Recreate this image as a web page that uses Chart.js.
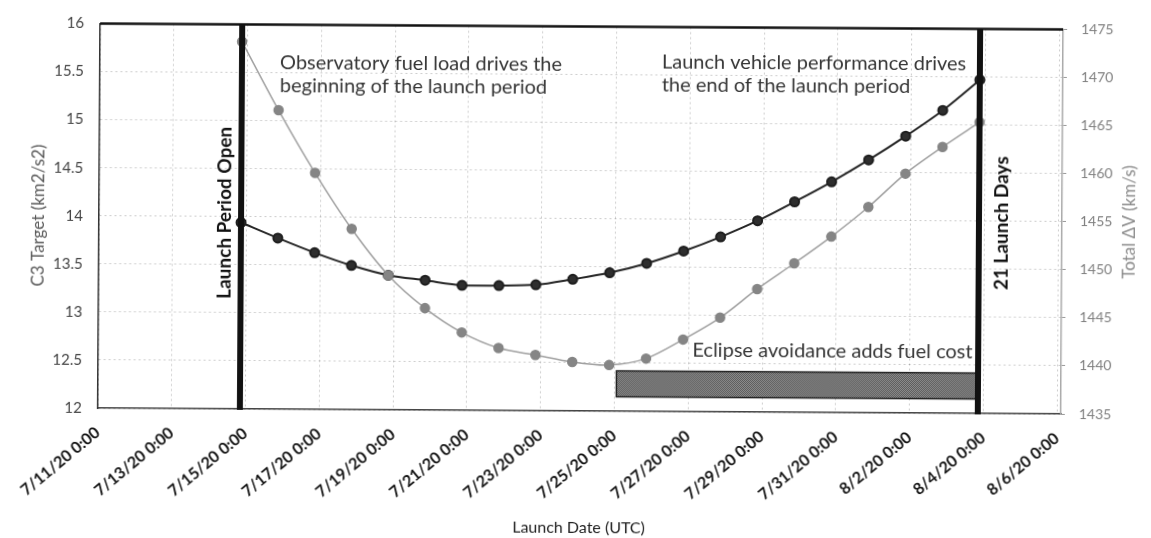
<!DOCTYPE html>
<html>
<head>
<meta charset="utf-8">
<script src="https://cdn.jsdelivr.net/npm/chart.js@4.4.1/dist/chart.umd.min.js"></script>
<style>
html,body{margin:0;padding:0;background:#fff;overflow:hidden}
/* the source is a slightly tilted scan */
#c{display:block;transform:rotate(0.35deg);transform-origin:580.75px 218.75px}
</style>
</head>
<body>
<canvas id="c" width="1151" height="538"></canvas>
<script>
// launch opportunities, days after 7/11/20 0:00 UTC
const launchDay=[3.85,4.85,5.85,6.85,7.85,8.85,9.85,10.85,11.85,12.85,13.85,14.85,15.85,16.85,17.85,18.85,19.85,20.85,21.85,22.85,23.85];
const c3Target=[13.94,13.78,13.63,13.50,13.40,13.35,13.30,13.30,13.31,13.37,13.44,13.54,13.67,13.82,13.99,14.19,14.40,14.63,14.88,15.15,15.47];
const totalDv=[1473.2,1466.1,1459.6,1453.8,1449.0,1445.6,1443.1,1441.5,1440.8,1440.1,1439.8,1440.5,1442.5,1444.8,1447.8,1450.5,1453.3,1456.4,1459.9,1462.7,1465.3];
const periodBounds=[3.85,23.85];      // launch period open / close
const eclipseDays=[14.05,23.85];      // eclipse avoidance span
const eclipseC3=[12.15,12.42];        // bar drawn against the C3 axis
const xRange=[0,26.1], xStep=2;
const c3Range=[12,16], c3Step=0.5;
const dvRange=[1435,1475], dvStep=5;

const FONT='Lato, "Open Sans", sans-serif';
Chart.defaults.font.family=FONT;

function dayLabel(v){
  const d=new Date(Date.UTC(2020,6,11)+v*864e5);
  return `${d.getUTCMonth()+1}/${d.getUTCDate()}/20 0:00`;
}
function dotFill(ctx){
  const p=document.createElement('canvas');p.width=p.height=2;
  const g=p.getContext('2d');
  g.fillStyle='#8c8c8c';g.fillRect(0,0,2,2);
  g.fillStyle='#5c5c5c';g.fillRect(0,0,1,1);g.fillRect(1,1,1,1);
  return ctx.createPattern(p,'repeat');
}
function vtext(ctx,t,x,y){ctx.save();ctx.translate(x,y);ctx.rotate(-Math.PI/2);ctx.fillText(t,0,0);ctx.restore();}

const overlay={id:'overlay',
  beforeDatasetsDraw(ch){
    const {ctx,scales:{x,y}}=ch;
    const x0=x.getPixelForValue(eclipseDays[0]),x1=x.getPixelForValue(eclipseDays[1]);
    const yt=y.getPixelForValue(eclipseC3[1]),yb=y.getPixelForValue(eclipseC3[0]);
    ctx.save();
    ctx.fillStyle=dotFill(ctx);ctx.fillRect(x0,yt,x1-x0,yb-yt);
    ctx.strokeStyle='#222';ctx.lineWidth=1.5;ctx.strokeRect(x0,yt,x1-x0,yb-yt);
    ctx.restore();
  },
  afterDatasetsDraw(ch){
    const {ctx,chartArea:a,scales:{x}}=ch;
    ctx.save();
    ctx.strokeStyle='#111';ctx.lineWidth=2.5;
    ctx.beginPath();ctx.moveTo(a.left,a.top);ctx.lineTo(a.right,a.top);ctx.stroke();
    ctx.lineWidth=6;
    for(const d of periodBounds){
      const px=x.getPixelForValue(d);
      ctx.beginPath();ctx.moveTo(px,a.top);ctx.lineTo(px,a.bottom+1);ctx.stroke();
    }
    ctx.restore();
  },
  afterDraw(ch){
    const {ctx,chartArea:a,scales:{x,y}}=ch;
    ctx.save();
    ctx.fillStyle='#363636';ctx.font=`20px ${FONT}`;ctx.textBaseline='alphabetic';ctx.textAlign='left';
    let px=x.getPixelForValue(4.88),py=y.getPixelForValue(15.54);
    ctx.fillText('Observatory fuel load drives the',px,py);
    ctx.fillText('beginning of the launch period',px,py+23);
    px=x.getPixelForValue(15.23);py=y.getPixelForValue(15.57);
    ctx.fillText('Launch vehicle performance drives',px,py);
    ctx.fillText('the end of the launch period',px,py+23);
    ctx.textAlign='right';
    ctx.fillText('Eclipse avoidance adds fuel cost',x.getPixelForValue(23.70),y.getPixelForValue(12.57));
    ctx.textAlign='center';ctx.textBaseline='middle';
    ctx.fillStyle='#111';ctx.font=`bold 19px ${FONT}`;
    vtext(ctx,'Launch Period Open',x.getPixelForValue(periodBounds[0])-16,y.getPixelForValue(14.04));
    vtext(ctx,'21 Launch Days',x.getPixelForValue(periodBounds[1])+23,y.getPixelForValue(13.98));
    ctx.fillStyle='#8a8a8a';ctx.font=`17px ${FONT}`;
    vtext(ctx,'Total \u0394V (km/s)',a.right+68,(a.top+a.bottom)/2);
    ctx.restore();
  }
};

new Chart(document.getElementById('c'),{
  type:'line',
  data:{datasets:[
    {label:'Total \u0394V',data:launchDay.map((d,i)=>({x:d,y:totalDv[i]})),yAxisID:'y1',
     borderColor:'#a0a0a0',borderWidth:1.5,pointRadius:4.5,pointBackgroundColor:'#858585',pointBorderColor:'#858585',tension:0.3},
    {label:'C3 Target',data:launchDay.map((d,i)=>({x:d,y:c3Target[i]})),yAxisID:'y',
     borderColor:'#262626',borderWidth:2,pointRadius:4.5,pointBackgroundColor:'#2e2e2e',pointBorderColor:'#1e1e1e',tension:0.3}
  ]},
  options:{
    responsive:false,animation:false,
    layout:{padding:{top:26.5,left:0,right:0,bottom:0}},
    plugins:{legend:{display:false},tooltip:{enabled:false}},
    scales:{
      x:{type:'linear',min:xRange[0],max:xRange[1],
        ticks:{stepSize:xStep,includeBounds:false,callback:dayLabel,minRotation:40,maxRotation:40,padding:15,
          color:'#141414',font:{size:16,weight:'bold'}},
        grid:{color:'rgba(0,0,0,0.2)',drawTicks:false},
        border:{color:'#444',width:1.5,dash:[2,3]},
        title:{display:true,text:'Launch Date (UTC)',color:'#1e1e1e',font:{size:16},padding:{top:0,bottom:1}},
        afterFit(s){s.height=127;s.paddingLeft=0;s.paddingRight=0;}
      },
      y:{position:'left',min:c3Range[0],max:c3Range[1],
        ticks:{stepSize:c3Step,padding:16,color:'#444',font:{size:15},callback:v=>String(v)},
        grid:{color:'rgba(0,0,0,0.2)',drawTicks:false},
        border:{color:'#333',width:1.5,dash:[2,3]},
        title:{display:true,text:'C3 Target (km2/s2)',color:'#595959',font:{size:17},padding:{top:28,bottom:0}},
        afterFit(s){s.width=99;s.paddingTop=0;s.paddingBottom=0;}
      },
      y1:{position:'right',min:dvRange[0],max:dvRange[1],
        ticks:{stepSize:dvStep,padding:14,color:'#808080',font:{size:14},callback:v=>String(v)},
        grid:{drawOnChartArea:false,tickLength:4,color:'#999'},
        border:{color:'#aaa',width:1.5},
        afterFit(s){s.width=89;s.paddingTop=0;s.paddingBottom=0;}
      }
    }
  },
  plugins:[overlay]
});
</script>
</body>
</html>
